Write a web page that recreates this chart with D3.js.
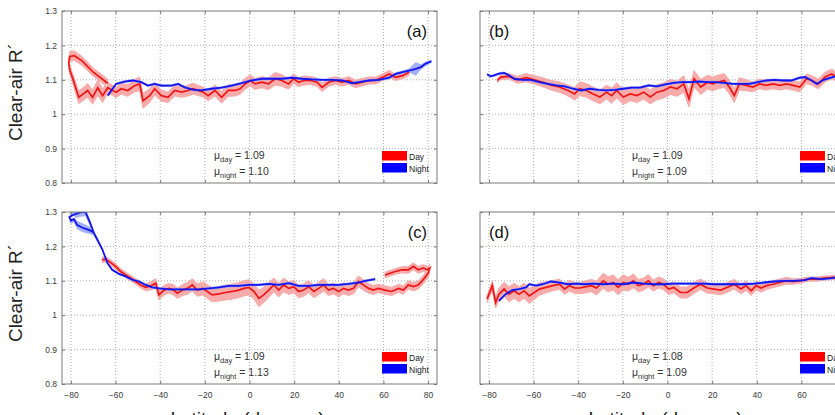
<!DOCTYPE html>
<html>
<head>
<meta charset="utf-8">
<script src="https://cdn.jsdelivr.net/npm/d3@7"></script>
<style>
  body { margin: 0; background: #fff; }
  text { font-family: "Liberation Sans", Arial, sans-serif; }
</style>
</head>
<body>
<div id="hook-chart"></div>
<script>
'use strict';

// tick values / labels
var xTicks = [-80, -60, -40, -20, 0, 20, 40, 60, 80];
var yTicks = [0.8, 0.9, 1.0, 1.1, 1.2, 1.3];
var yTickLabels = ['0.8', '0.9', '1', '1.1', '1.2', '1.3'];
var seriesNames = ['Day', 'Night'];

// [latitude, R', half width of band]
var aDay = [
  [-63.5,1.090,0.012],[-70,1.122,0.012],[-75,1.155,0.013],[-78.5,1.170,0.014],[-80.5,1.168,0.014],
  [-81,1.150,0.013],[-80.5,1.128,0.012],[-79,1.100,0.015],[-76.5,1.049,0.018],[-72.5,1.069,0.020],
  [-70.3,1.049,0.020],[-68,1.077,0.022],[-65.8,1.054,0.020],[-63.5,1.077,0.015],[-61.3,1.069,0.015],
  [-59.7,1.064,0.015],[-57.5,1.074,0.016],[-54.5,1.069,0.017],[-51.5,1.083,0.018],[-49.2,1.088,0.020],
  [-47.7,1.039,0.022],[-44.7,1.054,0.020],[-42.5,1.074,0.018],[-39.5,1.054,0.016],[-36.5,1.049,0.015],
  [-33.5,1.069,0.016],[-30.5,1.064,0.015],[-27.5,1.069,0.016],[-25.2,1.074,0.016],[-23,1.069,0.015],
  [-20.7,1.064,0.014],[-18.5,1.054,0.015],[-15.5,1.069,0.016],[-12.5,1.049,0.017],[-9.5,1.069,0.017],
  [-6.5,1.069,0.016],[-4.2,1.074,0.016],[-2,1.088,0.016],[0.3,1.098,0.016],[2.5,1.088,0.016],
  [5.5,1.093,0.016],[8.5,1.088,0.017],[11.5,1.103,0.018],[14.5,1.098,0.017],[17.5,1.088,0.015],
  [19.8,1.103,0.014],[22,1.093,0.013],[24.3,1.098,0.013],[27.3,1.098,0.012],[30.3,1.093,0.012],
  [32.5,1.078,0.012],[35.5,1.093,0.012],[38.5,1.098,0.011],[41.5,1.093,0.011],[44.5,1.098,0.011],
  [47.5,1.088,0.011],[50.5,1.093,0.011],[53.5,1.098,0.010],[56.5,1.098,0.010],[59.5,1.107,0.010],
  [62.5,1.117,0.010],[65.5,1.107,0.009],[68.5,1.112,0.009],[71.5,1.122,0.009]
];
var aNight = [
  [-63.5,1.054,0.004],[-59.8,1.088,0.004],[-56,1.095,0.004],[-52.3,1.098,0.004],[-48.5,1.093,0.004],
  [-45.5,1.083,0.004],[-42.5,1.088,0.004],[-39.5,1.083,0.004],[-35,1.083,0.004],[-32,1.088,0.004],
  [-29,1.078,0.004],[-25,1.071,0.004],[-21.5,1.069,0.004],[-17,1.074,0.004],[-12.5,1.077,0.004],
  [-8,1.083,0.004],[-3.5,1.090,0.004],[1,1.098,0.004],[5.5,1.103,0.004],[10,1.103,0.004],
  [14.5,1.103,0.004],[19,1.106,0.004],[23.5,1.103,0.004],[28,1.101,0.004],[32.5,1.100,0.004],
  [37,1.100,0.004],[41.5,1.098,0.004],[46,1.090,0.004],[49,1.093,0.004],[53.5,1.098,0.004],
  [58,1.100,0.004],[62.5,1.106,0.005],[65.5,1.117,0.005],[68.5,1.122,0.005],[71.5,1.127,0.006],
  [74.5,1.132,0.020],[76.8,1.137,0.008],[79,1.147,0.006],[81.5,1.154,0.005]
];

var bDay = [
  [-76.2,1.098,0.006],[-74.7,1.108,0.007],[-71,1.110,0.008],[-67.2,1.100,0.010],[-63.4,1.106,0.012],
  [-59.7,1.100,0.012],[-55.9,1.093,0.013],[-52.1,1.084,0.014],[-48.4,1.079,0.015],[-44.6,1.069,0.016],
  [-41.6,1.059,0.018],[-39.3,1.074,0.020],[-36.3,1.069,0.020],[-33.3,1.059,0.020],[-30.3,1.050,0.020],
  [-27.3,1.064,0.020],[-25,1.054,0.022],[-22.8,1.069,0.022],[-19.8,1.050,0.022],[-16.7,1.059,0.020],
  [-13.7,1.054,0.020],[-10.7,1.064,0.020],[-7.7,1.050,0.020],[-4.7,1.064,0.022],[-1.7,1.069,0.022],
  [1.3,1.079,0.022],[4.3,1.074,0.022],[7.3,1.088,0.024],[9.6,1.045,0.024],[11.9,1.103,0.024],
  [14.9,1.079,0.022],[17.9,1.093,0.020],[20.2,1.088,0.020],[22.4,1.093,0.020],[25.4,1.098,0.020],
  [27.7,1.079,0.020],[29.9,1.054,0.020],[32.2,1.088,0.018],[35.2,1.084,0.016],[38.2,1.079,0.014],
  [41.2,1.088,0.014],[44.2,1.084,0.014],[47.3,1.088,0.014],[50.3,1.084,0.014],[53.3,1.088,0.014],
  [56.3,1.084,0.014],[59.3,1.079,0.014],[62.3,1.103,0.014],[64.6,1.098,0.014],[67.6,1.088,0.014],
  [70.6,1.108,0.014],[73.6,1.117,0.014],[75.8,1.108,0.014],[79,1.112,0.014]
];
var bNight = [
  [-80.8,1.116,0.004],[-79.2,1.110,0.004],[-77.7,1.113,0.004],[-75.5,1.118,0.004],[-73.2,1.120,0.004],
  [-71,1.113,0.004],[-68.7,1.103,0.004],[-65,1.100,0.004],[-61.2,1.100,0.004],[-57.4,1.093,0.004],
  [-53.6,1.088,0.004],[-49.9,1.084,0.004],[-46.1,1.081,0.004],[-42.3,1.074,0.004],[-38.6,1.069,0.004],
  [-34.8,1.074,0.004],[-31,1.071,0.004],[-27.3,1.069,0.004],[-23.5,1.071,0.004],[-19.8,1.074,0.004],
  [-16,1.077,0.004],[-12.2,1.077,0.004],[-8.5,1.084,0.004],[-4.7,1.081,0.004],[-0.9,1.087,0.004],
  [2.8,1.091,0.004],[6.6,1.093,0.004],[10.4,1.093,0.004],[14.1,1.095,0.004],[17.9,1.093,0.004],
  [21.7,1.093,0.004],[25.4,1.091,0.004],[29.2,1.088,0.004],[33,1.088,0.004],[36.7,1.088,0.004],
  [40.5,1.093,0.004],[44.2,1.098,0.004],[48,1.100,0.004],[51.8,1.098,0.004],[55.5,1.098,0.004],
  [59.3,1.106,0.004],[61.6,1.108,0.004],[64.6,1.098,0.004],[66.8,1.088,0.004],[70,1.100,0.004],
  [75,1.110,0.004],[80,1.120,0.004]
];

var cDay = [
  [-66,1.161,0.008],[-64.5,1.163,0.008],[-62,1.152,0.008],[-60,1.142,0.008],[-57.7,1.127,0.008],
  [-55.5,1.117,0.008],[-53.3,1.108,0.008],[-51,1.098,0.008],[-48.7,1.088,0.009],[-46.5,1.081,0.010],
  [-44.3,1.085,0.012],[-42,1.093,0.013],[-40.6,1.059,0.014],[-38.3,1.073,0.014],[-36,1.078,0.014],
  [-33.9,1.073,0.015],[-32.4,1.064,0.015],[-30,1.073,0.016],[-27.8,1.078,0.017],[-25.6,1.088,0.018],
  [-23.4,1.073,0.018],[-21,1.078,0.019],[-18.9,1.069,0.020],[-16.7,1.059,0.020],[-13.7,1.062,0.021],
  [-10.7,1.066,0.022],[-7.7,1.069,0.022],[-4.8,1.073,0.022],[-2.5,1.078,0.022],[-0.3,1.081,0.022],
  [2,1.069,0.022],[4.2,1.049,0.024],[6.4,1.059,0.022],[8.6,1.073,0.022],[10.9,1.088,0.020],
  [13.1,1.073,0.020],[15.3,1.088,0.020],[17.6,1.078,0.018],[19.8,1.083,0.018],[22,1.069,0.018],
  [24.3,1.073,0.018],[26.5,1.083,0.018],[28.8,1.069,0.018],[31,1.078,0.018],[33.2,1.088,0.018],
  [35.4,1.073,0.016],[37.6,1.078,0.016],[39.9,1.069,0.016],[42.1,1.078,0.016],[44.3,1.073,0.016],
  [46.6,1.078,0.016],[48.8,1.098,0.016],[51,1.088,0.015],[53.3,1.078,0.014],[55.5,1.073,0.013],
  [57.7,1.078,0.012],[60.7,1.073,0.012],[63.7,1.069,0.012],[66.7,1.078,0.012],[68.9,1.073,0.012],
  [71.2,1.088,0.012],[73.4,1.083,0.012],[75.6,1.088,0.012],[77.8,1.103,0.012],[80,1.122,0.012],
  [80.8,1.137,0.012],[79.8,1.132,0.010],[77.8,1.137,0.010],[75.6,1.132,0.010],[73.4,1.142,0.010],
  [71.2,1.132,0.010],[68.2,1.132,0.009],[65.3,1.127,0.008],[63,1.122,0.008],[60.7,1.117,0.008]
];
var cNight = [
  [-69.8,1.240,0.008],[-71,1.245,0.010],[-73,1.250,0.012],[-75,1.255,0.013],[-77.2,1.262,0.012],
  [-78.7,1.280,0.010],[-80,1.275,0.010],[-80.7,1.285,0.010],[-79.5,1.290,0.010],[-77.5,1.295,0.012],
  [-75,1.300,0.013],[-73.5,1.300,0.012],[-71.5,1.270,0.010],[-69.8,1.240,0.008],[-67.8,1.215,0.006],
  [-65.9,1.191,0.005],[-63.7,1.152,0.004],[-61.5,1.132,0.004],[-58.5,1.120,0.004],[-55.5,1.113,0.004],
  [-52.5,1.103,0.004],[-49.5,1.098,0.004],[-46.5,1.088,0.004],[-43.5,1.081,0.004],[-40.5,1.078,0.004],
  [-36,1.075,0.004],[-31.5,1.075,0.004],[-27,1.075,0.004],[-22.6,1.075,0.004],[-18,1.078,0.004],
  [-13.7,1.081,0.004],[-9.2,1.085,0.004],[-4.8,1.085,0.004],[-0.3,1.088,0.004],[4.2,1.088,0.004],
  [8.6,1.091,0.004],[13.1,1.088,0.004],[17.6,1.093,0.004],[22,1.085,0.004],[26.5,1.085,0.004],
  [31,1.088,0.004],[35.4,1.088,0.004],[39.9,1.088,0.004],[44.3,1.091,0.004],[48.8,1.095,0.004],
  [51.8,1.100,0.004],[56.3,1.105,0.004]
];

var dDay = [
  [-80.8,1.047,0.010],[-78.5,1.086,0.014],[-77,1.037,0.016],[-75.5,1.061,0.018],[-73.2,1.076,0.020],
  [-71,1.061,0.022],[-68.7,1.071,0.022],[-66.5,1.061,0.022],[-64.2,1.071,0.022],[-62,1.056,0.022],
  [-59.7,1.066,0.020],[-57.4,1.076,0.018],[-54.4,1.081,0.016],[-51.4,1.086,0.015],[-48.4,1.090,0.015],
  [-46.1,1.076,0.015],[-43.9,1.086,0.016],[-41.6,1.079,0.016],[-39.3,1.079,0.016],[-36.3,1.083,0.018],
  [-34.1,1.086,0.018],[-31.8,1.079,0.020],[-28.8,1.100,0.022],[-26.6,1.090,0.022],[-24.3,1.095,0.022],
  [-22.1,1.081,0.022],[-19.8,1.095,0.022],[-17.6,1.090,0.020],[-15.3,1.100,0.020],[-13.1,1.086,0.018],
  [-10.8,1.090,0.018],[-8.6,1.100,0.018],[-6.3,1.086,0.016],[-4,1.095,0.016],[-1.8,1.090,0.016],
  [0.5,1.076,0.016],[2.8,1.081,0.016],[5.8,1.066,0.016],[8.8,1.066,0.016],[11.8,1.079,0.016],
  [14.8,1.090,0.015],[17.8,1.079,0.015],[20.8,1.076,0.014],[23.9,1.073,0.014],[26.9,1.081,0.014],
  [29.9,1.090,0.014],[32.9,1.076,0.014],[35.2,1.086,0.014],[37.5,1.071,0.014],[39.7,1.086,0.013],
  [42,1.079,0.012],[44.3,1.086,0.011],[47.2,1.090,0.010],[50.2,1.095,0.010],[53.2,1.100,0.010],
  [56.2,1.098,0.008],[59.3,1.100,0.007],[63,1.105,0.006],[66.8,1.105,0.006],[70.5,1.108,0.006],
  [75,1.110,0.006]
];
var dNight = [
  [-75.5,1.042,0.004],[-72.5,1.061,0.004],[-69.5,1.073,0.004],[-66.5,1.076,0.004],[-63.4,1.081,0.004],
  [-61.9,1.090,0.004],[-58.9,1.086,0.004],[-55.9,1.090,0.004],[-52.2,1.098,0.004],[-48.4,1.095,0.004],
  [-44.6,1.090,0.004],[-40.9,1.092,0.004],[-37.1,1.090,0.004],[-33.3,1.092,0.004],[-28.8,1.090,0.004],
  [-24.3,1.092,0.004],[-19.8,1.090,0.004],[-15.3,1.095,0.004],[-10.8,1.092,0.004],[-6.3,1.090,0.004],
  [-1.8,1.090,0.004],[2.8,1.092,0.004],[7.3,1.092,0.004],[11.8,1.092,0.004],[16.3,1.092,0.004],
  [20.8,1.090,0.004],[25.3,1.090,0.004],[29.9,1.090,0.004],[34.4,1.090,0.004],[38.9,1.092,0.004],
  [43.4,1.095,0.004],[47.9,1.098,0.004],[52.4,1.100,0.004],[56.9,1.100,0.004],[61.5,1.102,0.004],
  [64.5,1.108,0.004],[69,1.105,0.004],[73.5,1.108,0.004],[75.8,1.110,0.004]
];

var panelTags = ['(a)', '(b)', '(c)', '(d)'];
var muDay = ['1.09', '1.09', '1.09', '1.08'];
var muNight = ['1.10', '1.09', '1.13', '1.09'];

var options = {
  width: 835,
  height: 415,
  panelW: 375,
  panelH: 172,
  colX: [62, 480],
  rowY: [11, 212],
  dayLine: '#f01515',
  dayBand: '#f7a2a2',
  nightLine: '#1515f0',
  nightBand: '#93a3f6',
  gridColor: '#9a9a9a',
  boxColor: '#7a7a7a',
  tickColor: '#3a3a3a'
};

var svg = d3.select('#hook-chart')
  .append('svg')
  .attr('width', options.width)
  .attr('height', options.height)
  .style('display', 'block');

svg.append('rect')
  .attr('width', options.width)
  .attr('height', options.height)
  .style('fill', '#fff');

function drawPanel(i, day, night) {
  var col = i % 2, row = Math.floor(i / 2);
  var x0 = options.colX[col], y0 = options.rowY[row];
  var w = options.panelW, h = options.panelH;

  var x = d3.scaleLinear().domain([-84, 84]).range([0, w]);
  var y = d3.scaleLinear().domain([0.8, 1.3]).range([h, 0]);

  var g = svg.append('g').attr('transform', 'translate(' + x0 + ',' + y0 + ')');

  var clipId = 'clip-' + i;
  g.append('clipPath').attr('id', clipId)
    .append('rect').attr('width', w).attr('height', h);

  // dotted grid
  g.selectAll('.gx').data(xTicks).enter().append('line')
    .attr('x1', function(d) { return x(d); })
    .attr('x2', function(d) { return x(d); })
    .attr('y1', 0).attr('y2', h)
    .style('stroke', options.gridColor)
    .style('stroke-width', 0.8)
    .style('stroke-dasharray', '1,2');
  g.selectAll('.gy').data(yTicks.slice(1, -1)).enter().append('line')
    .attr('x1', 0).attr('x2', w)
    .attr('y1', function(d) { return y(d); })
    .attr('y2', function(d) { return y(d); })
    .style('stroke', options.gridColor)
    .style('stroke-width', 0.8)
    .style('stroke-dasharray', '1,2');

  var plot = g.append('g').attr('clip-path', 'url(#' + clipId + ')');

  var band = d3.area()
    .x(function(d) { return x(d[0]); })
    .y0(function(d) { return y(d[1] - d[2]); })
    .y1(function(d) { return y(d[1] + d[2]); });
  var line = d3.line()
    .x(function(d) { return x(d[0]); })
    .y(function(d) { return y(d[1]); });

  plot.append('path').datum(day).attr('d', band)
    .style('fill', options.dayBand).style('stroke', options.dayBand)
    .style('stroke-width', 1).style('opacity', 0.9);
  plot.append('path').datum(night).attr('d', band)
    .style('fill', options.nightBand).style('opacity', 0.85);
  plot.append('path').datum(day).attr('d', line)
    .style('fill', 'none').style('stroke', options.dayLine).style('stroke-width', 1.7);
  plot.append('path').datum(night).attr('d', line)
    .style('fill', 'none').style('stroke', options.nightLine).style('stroke-width', 1.8);

  // box
  g.append('rect').attr('width', w).attr('height', h)
    .style('fill', 'none').style('stroke', options.boxColor).style('stroke-width', 1);

  // inward ticks
  var xAxB = d3.axisBottom(x).tickValues(xTicks).tickSize(-3).tickFormat('');
  var xAxT = d3.axisTop(x).tickValues(xTicks).tickSize(-3).tickFormat('');
  var yAxL = d3.axisLeft(y).tickValues(yTicks).tickSize(-3).tickFormat('');
  var yAxR = d3.axisRight(y).tickValues(yTicks).tickSize(-3).tickFormat('');
  [[xAxB, 'translate(0,' + h + ')'], [xAxT, null], [yAxL, null], [yAxR, 'translate(' + w + ',0)']]
    .forEach(function(a) {
      var ax = g.append('g').call(a[0]);
      if (a[1]) ax.attr('transform', a[1]);
      ax.select('.domain').remove();
      ax.selectAll('line').style('stroke', options.boxColor);
    });

  if (col === 0) {
    var yl = d3.axisLeft(y).tickValues(yTicks).tickSize(0).tickPadding(5)
      .tickFormat(function(d, k) { return yTickLabels[k]; });
    var ya = g.append('g').call(yl);
    ya.select('.domain').remove();
    ya.selectAll('text').style('font-size', '8.5px').style('fill', options.tickColor)
      .style('font-family', '"Liberation Sans", Arial, sans-serif');

    g.append('text')
      .attr('transform', 'translate(-40,' + (h / 2 - 5) + ') rotate(-90)')
      .attr('text-anchor', 'middle')
      .style('font-size', '19px')
      .style('fill', '#222')
      .text('Clear-air R\u00B4');
  }
  if (row === 1) {
    var xl = d3.axisBottom(x).tickValues(xTicks).tickSize(0).tickPadding(8);
    var xa = g.append('g').attr('transform', 'translate(0,' + h + ')').call(xl);
    xa.select('.domain').remove();
    xa.selectAll('text').style('font-size', '8.5px').style('fill', options.tickColor)
      .style('font-family', '"Liberation Sans", Arial, sans-serif');

    g.append('text')
      .attr('x', w / 2 - 2).attr('y', h + 41)
      .attr('text-anchor', 'middle')
      .style('font-size', '19px')
      .style('fill', '#222')
      .text('Latitude (degrees)');
  }

  // panel tag
  g.append('text')
    .attr('x', col === 0 ? w - 10 : 9)
    .attr('y', 26)
    .attr('text-anchor', col === 0 ? 'end' : 'start')
    .style('font-size', '16.5px')
    .style('fill', '#111')
    .text(panelTags[i]);

  // means
  var m1 = g.append('text').attr('x', 152).attr('y', 148)
    .style('font-size', '10.5px').style('fill', '#333');
  m1.append('tspan').text('\u03BC');
  m1.append('tspan').attr('dy', 3).style('font-size', '7.5px').text('day');
  m1.append('tspan').attr('dy', -3).text(' = ' + muDay[i]);
  var m2 = g.append('text').attr('x', 152).attr('y', 164)
    .style('font-size', '10.5px').style('fill', '#333');
  m2.append('tspan').text('\u03BC');
  m2.append('tspan').attr('dy', 3).style('font-size', '7.5px').text('night');
  m2.append('tspan').attr('dy', -3).text(' = ' + muNight[i]);

  // legend
  seriesNames.forEach(function(nm, k) {
    g.append('rect')
      .attr('x', 320).attr('y', 140 + k * 12)
      .attr('width', 25).attr('height', 9.5)
      .style('fill', k === 0 ? '#ff0000' : '#0000ff');
    g.append('text')
      .attr('x', 347).attr('y', 148.5 + k * 12)
      .style('font-size', '8.5px').style('fill', '#222')
      .text(nm);
  });
}

drawPanel(0, aDay, aNight);
drawPanel(1, bDay, bNight);
drawPanel(2, cDay, cNight);
drawPanel(3, dDay, dNight);
</script>
</body>
</html>
